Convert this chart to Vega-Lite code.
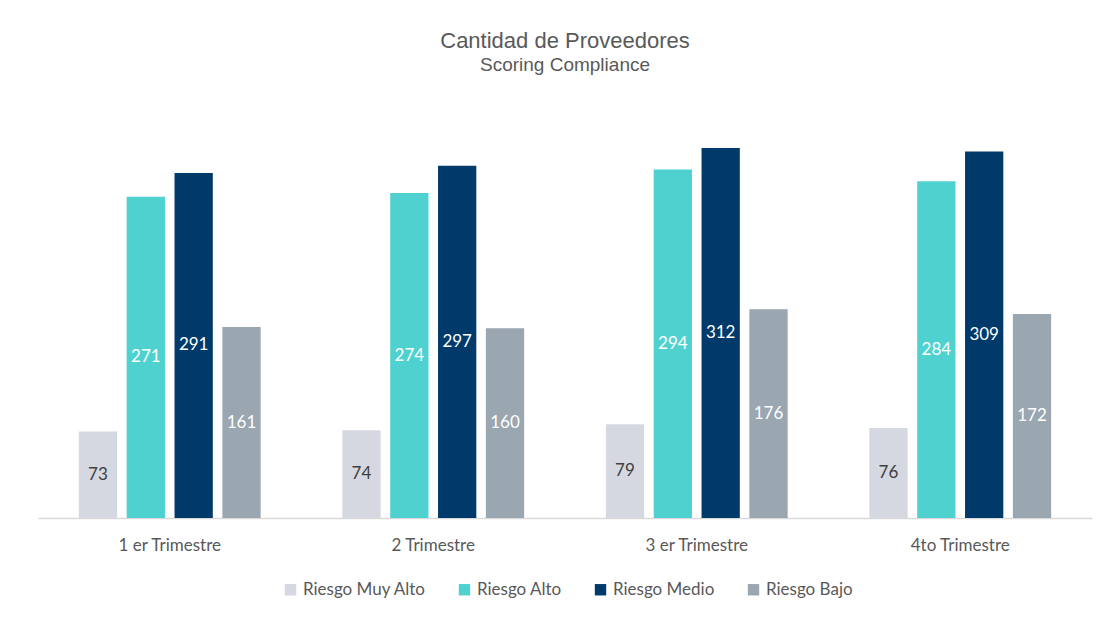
{
  "$schema": "https://vega.github.io/schema/vega-lite/v6.json",
  "autosize": {"type": "none"},
  "width": 1054,
  "height": 415,
  "padding": {"left": 38, "top": 103, "right": 9, "bottom": 100},
  "background": "white",
  "title": {
    "text": "Cantidad de Proveedores",
    "subtitle": "Scoring Compliance",
    "anchor": "middle",
    "font": "Liberation Sans",
    "fontSize": 22,
    "fontWeight": "normal",
    "color": "#595959",
    "subtitleFont": "Liberation Sans",
    "subtitleFontSize": 19,
    "subtitleColor": "#595959",
    "subtitlePadding": 3,
    "offset": 27
  },
  "data": {
    "values": [
      {"q": "1 er Trimestre", "s": "Riesgo Muy Alto", "v": 73},
      {"q": "1 er Trimestre", "s": "Riesgo Alto", "v": 271},
      {"q": "1 er Trimestre", "s": "Riesgo Medio", "v": 291},
      {"q": "1 er Trimestre", "s": "Riesgo Bajo", "v": 161},
      {"q": "2 Trimestre", "s": "Riesgo Muy Alto", "v": 74},
      {"q": "2 Trimestre", "s": "Riesgo Alto", "v": 274},
      {"q": "2 Trimestre", "s": "Riesgo Medio", "v": 297},
      {"q": "2 Trimestre", "s": "Riesgo Bajo", "v": 160},
      {"q": "3 er Trimestre", "s": "Riesgo Muy Alto", "v": 79},
      {"q": "3 er Trimestre", "s": "Riesgo Alto", "v": 294},
      {"q": "3 er Trimestre", "s": "Riesgo Medio", "v": 312},
      {"q": "3 er Trimestre", "s": "Riesgo Bajo", "v": 176},
      {"q": "4to Trimestre", "s": "Riesgo Muy Alto", "v": 76},
      {"q": "4to Trimestre", "s": "Riesgo Alto", "v": 284},
      {"q": "4to Trimestre", "s": "Riesgo Medio", "v": 309},
      {"q": "4to Trimestre", "s": "Riesgo Bajo", "v": 172}
    ]
  },
  "transform": [{"calculate": "datum.v / 2", "as": "mid"}],
  "encoding": {
    "x": {
      "field": "q",
      "type": "nominal",
      "sort": ["1 er Trimestre", "2 Trimestre", "3 er Trimestre", "4to Trimestre"],
      "scale": {"paddingInner": 0.31, "paddingOuter": 0.155},
      "axis": {
        "title": null,
        "labelAngle": 0,
        "labelFont": "Lato",
        "labelFontSize": 17,
        "labelColor": "#595959",
        "labelPadding": 19,
        "ticks": false,
        "domainColor": "#d9d9d9",
        "domainWidth": 1.5
      }
    },
    "xOffset": {
      "field": "s",
      "type": "nominal",
      "sort": ["Riesgo Muy Alto", "Riesgo Alto", "Riesgo Medio", "Riesgo Bajo"],
      "scale": {"paddingInner": 0.2, "paddingOuter": 0}
    }
  },
  "layer": [
    {
      "mark": {"type": "bar"},
      "encoding": {
        "y": {
          "field": "v",
          "type": "quantitative",
          "scale": {"domain": [0, 350]},
          "axis": null
        },
        "color": {
          "field": "s",
          "type": "nominal",
          "sort": ["Riesgo Muy Alto", "Riesgo Alto", "Riesgo Medio", "Riesgo Bajo"],
          "scale": {
            "domain": ["Riesgo Muy Alto", "Riesgo Alto", "Riesgo Medio", "Riesgo Bajo"],
            "range": ["#d5d8e1", "#4fd2cf", "#003a6b", "#9aa6b0"]
          },
          "legend": {
            "title": null,
            "orient": "none",
            "legendX": 244,
            "legendY": 478,
            "direction": "horizontal",
            "symbolType": "square",
            "symbolSize": 130,
            "symbolStrokeWidth": 0,
            "labelFont": "Lato",
            "labelFontSize": 17,
            "labelColor": "#595959",
            "labelOffset": 4,
            "columnPadding": 30
          }
        }
      }
    },
    {
      "mark": {"type": "text", "font": "Lato", "fontSize": 17, "baseline": "middle", "align": "center"},
      "encoding": {
        "y": {"field": "mid", "type": "quantitative"},
        "text": {"field": "v", "type": "quantitative"},
        "color": {
          "condition": {"test": "datum.s === 'Riesgo Muy Alto'", "value": "#404040"},
          "value": "#ffffff"
        }
      }
    }
  ],
  "config": {"view": {"stroke": null}}
}
